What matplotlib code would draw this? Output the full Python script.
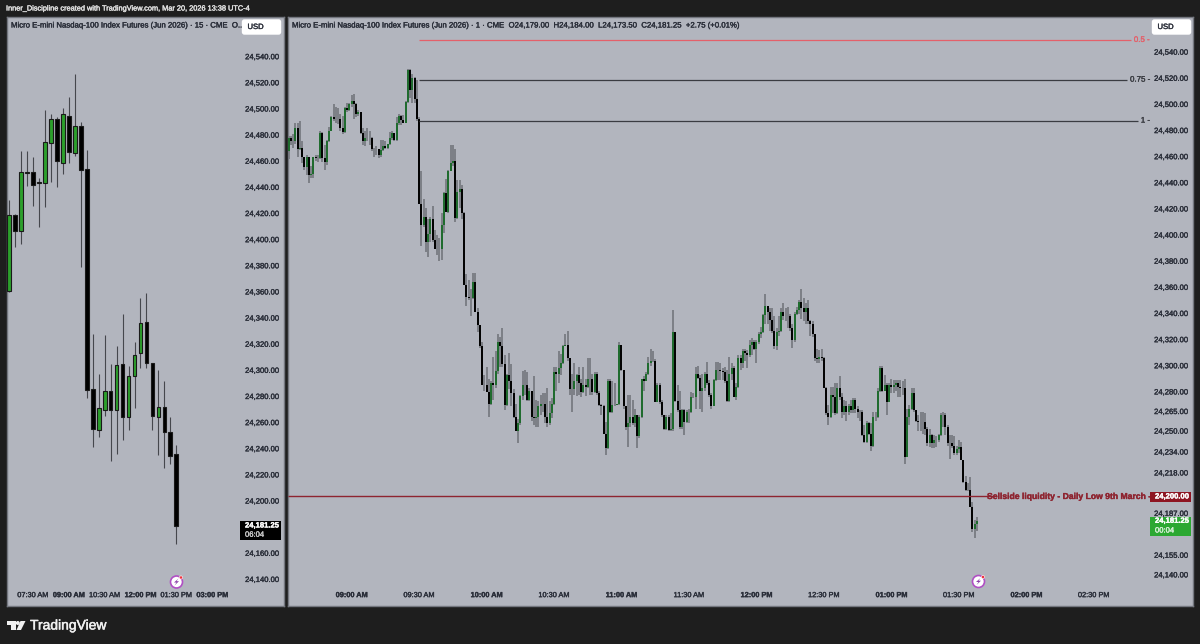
import numpy as np
import matplotlib
matplotlib.use("Agg")
import matplotlib.pyplot as plt
import matplotlib.patheffects as pe
from matplotlib.patches import Rectangle, FancyBboxPatch, Circle, Polygon
from matplotlib.text import Text
from matplotlib.transforms import Affine2D

plt.rcParams["font.family"] = ["Liberation Sans", "DejaVu Sans"]

BG = "#1e1e1e"
PANE = "#b2b5be"
TXT = "#2a2e39"

# 15 minute chart, first bar 06:30
h_open = [24361, 24419, 24407, 24451, 24452, 24443.5, 24443, 24474, 24492, 24459, 24495, 24466, 24487, 24454, 24285.5,
          24254, 24270, 24284.5, 24270, 24304.6, 24264.5, 24296, 24313, 24337, 24305.6, 24264.5, 24272, 24253, 24236]
h_high = [24430, 24420, 24468, 24468, 24463, 24447, 24499, 24496, 24494, 24501, 24509, 24527, 24490, 24469, 24328,
          24297, 24327, 24305, 24319, 24343, 24303, 24321.5, 24355, 24359, 24305.6, 24300, 24292, 24264, 24243]
h_low = [24360, 24394.6, 24397, 24441, 24426, 24410, 24425, 24444, 24440, 24450, 24459, 24464, 24379, 24279, 24241,
         24249, 24265, 24231, 24236, 24247, 24254, 24271.5, 24301.5, 24301.5, 24254, 24235, 24225.5, 24228, 24167]
h_close = [24419, 24407, 24452, 24452, 24442, 24443, 24475, 24492, 24460, 24496, 24467, 24487, 24453, 24285, 24255,
           24271, 24284, 24270, 24304, 24264.5, 24296, 24311.5, 24336.5, 24305.6, 24265, 24272, 24253, 24234.7, 24181.25]

# 1 minute chart, first bar 08:31
m_first_open = 24474
m_close = [
    24464, 24474, 24472, 24472, 24482, 24466, 24467, 24460, 24452, 24460,
    24446, 24447, 24460, 24459, 24459, 24478, 24459, 24456, 24472, 24480,
    24490, 24489, 24489, 24489, 24482, 24479, 24497, 24496, 24500, 24503,
    24500, 24493, 24494, 24478, 24472, 24474, 24474, 24474, 24466, 24466,
    24466, 24461, 24465, 24468, 24467, 24470, 24474, 24478, 24473, 24486,
    24491, 24488, 24486, 24502, 24526, 24511, 24520, 24504, 24489, 24424,
    24408, 24414, 24395, 24401, 24412, 24396, 24389, 24389, 24389, 24408,
    24432, 24418, 24449, 24455, 24457, 24413, 24433, 24435, 24417, 24362,
    24353, 24352, 24352, 24364, 24341, 24331, 24315, 24285, 24285, 24280,
    24271, 24287, 24285, 24296, 24318, 24315, 24301, 24270, 24293, 24288,
    24279, 24261, 24250, 24256, 24277, 24285, 24285, 24274, 24281, 24261,
    24260, 24261, 24269, 24271, 24271, 24261, 24256, 24264, 24271, 24295,
    24294, 24298, 24302, 24315, 24316, 24306, 24282, 24282, 24288, 24293,
    24287, 24280, 24285, 24284, 24290, 24290, 24280, 24294, 24279, 24270,
    24269, 24248, 24237, 24288, 24265, 24270, 24270, 24271, 24316, 24297,
    24269, 24253, 24256, 24261, 24256, 24262, 24246, 24261, 24290, 24288,
    24294, 24302, 24304, 24304, 24272, 24285, 24272, 24262, 24252, 24261,
    24251, 24252, 24326, 24273, 24266, 24253, 24266, 24257, 24265, 24265,
    24276, 24276, 24294, 24291, 24281, 24283, 24294, 24287, 24278, 24269,
    24289, 24297, 24297, 24296, 24295, 24288, 24273, 24294, 24298, 24276,
    24284, 24306, 24302, 24311, 24310, 24308, 24316, 24318, 24313, 24318,
    24324, 24326, 24339, 24346, 24341, 24335, 24327, 24315, 24326, 24327,
    24341, 24338, 24338, 24338, 24329, 24320, 24340, 24343, 24349, 24344,
    24341, 24344, 24334, 24332, 24324, 24306, 24305, 24307, 24306, 24283,
    24264, 24261, 24278, 24276, 24264, 24283, 24276, 24265, 24269, 24265,
    24269, 24266, 24274, 24267, 24265, 24265, 24247, 24242, 24256, 24248,
    24239, 24261, 24261, 24281, 24298, 24281, 24285, 24272, 24285, 24284,
    24285, 24287, 24284, 24283, 24283, 24230, 24261, 24267, 24279, 24266,
    24258, 24257, 24257, 24257, 24252, 24241, 24247, 24241, 24243, 24243,
    24247, 24262, 24262, 24253, 24241, 24241, 24239, 24233, 24236, 24238,
    24228, 24211, 24205, 24205, 24192, 24175, 24179, 24181.25]
m_high = [
    24475, 24476, 24476, 24477, 24486, 24486, 24487, 24472, 24460, 24461,
    24460, 24453, 24460, 24461, 24461, 24480, 24479, 24469, 24473, 24483,
    24491, 24500, 24498, 24497, 24493, 24491, 24498, 24501, 24501, 24507,
    24508, 24501, 24496, 24494, 24482, 24480, 24482, 24480, 24475, 24467,
    24468, 24466, 24473, 24473, 24472, 24470, 24479, 24480, 24478, 24490,
    24493, 24492, 24492, 24503, 24527, 24527, 24523, 24521, 24519, 24490,
    24449, 24428, 24421, 24412, 24414, 24422, 24404, 24400, 24398, 24417,
    24433, 24443, 24450, 24469, 24469, 24466, 24442, 24442, 24438, 24418,
    24370, 24366, 24359, 24371, 24371, 24344, 24331, 24318, 24293, 24299,
    24290, 24288, 24307, 24311, 24324, 24322, 24329, 24308, 24294, 24310,
    24301, 24282, 24271, 24259, 24278, 24296, 24297, 24295, 24283, 24280,
    24292, 24274, 24273, 24278, 24279, 24279, 24283, 24273, 24275, 24299,
    24299, 24311, 24309, 24316, 24324, 24327, 24304, 24294, 24302, 24294,
    24299, 24290, 24299, 24290, 24306, 24306, 24294, 24295, 24295, 24281,
    24271, 24270, 24257, 24290, 24290, 24288, 24287, 24271, 24318, 24316,
    24297, 24269, 24278, 24278, 24274, 24267, 24257, 24262, 24290, 24292,
    24295, 24307, 24313, 24311, 24305, 24287, 24287, 24274, 24262, 24262,
    24262, 24264, 24343, 24326, 24285, 24281, 24267, 24267, 24266, 24267,
    24280, 24279, 24299, 24300, 24293, 24294, 24295, 24303, 24289, 24279,
    24290, 24303, 24303, 24302, 24298, 24299, 24297, 24307, 24302, 24300,
    24287, 24308, 24308, 24313, 24313, 24312, 24320, 24321, 24320, 24320,
    24326, 24330, 24340, 24355, 24346, 24344, 24344, 24338, 24329, 24338,
    24344, 24348, 24344, 24345, 24340, 24332, 24341, 24345, 24350, 24359,
    24352, 24348, 24350, 24335, 24334, 24324, 24313, 24312, 24313, 24307,
    24284, 24270, 24284, 24284, 24287, 24287, 24292, 24279, 24274, 24273,
    24271, 24274, 24275, 24275, 24269, 24266, 24266, 24255, 24258, 24257,
    24256, 24265, 24265, 24283, 24300, 24300, 24293, 24287, 24287, 24290,
    24289, 24289, 24289, 24289, 24288, 24290, 24267, 24270, 24283, 24283,
    24266, 24262, 24265, 24265, 24264, 24253, 24252, 24248, 24247, 24246,
    24248, 24264, 24265, 24264, 24255, 24247, 24247, 24246, 24239, 24243,
    24242, 24228, 24216, 24210, 24215, 24196, 24182, 24184]
m_low = [
    24458, 24458, 24469, 24467, 24470, 24460, 24465, 24455, 24450, 24446,
    24440, 24444, 24444, 24457, 24456, 24458, 24456, 24450, 24454, 24471,
    24480, 24487, 24486, 24485, 24480, 24477, 24478, 24494, 24495, 24498,
    24489, 24490, 24491, 24477, 24469, 24468, 24472, 24469, 24464, 24460,
    24461, 24459, 24460, 24464, 24466, 24466, 24469, 24473, 24472, 24472,
    24484, 24484, 24486, 24486, 24501, 24505, 24501, 24501, 24487, 24424,
    24392, 24406, 24387, 24383, 24395, 24395, 24389, 24385, 24380, 24381,
    24402, 24418, 24417, 24449, 24453, 24410, 24412, 24421, 24412, 24362,
    24346, 24350, 24338, 24351, 24341, 24326, 24314, 24285, 24281, 24280,
    24261, 24270, 24274, 24283, 24294, 24299, 24299, 24266, 24269, 24282,
    24269, 24260, 24250, 24241, 24255, 24274, 24278, 24273, 24273, 24258,
    24255, 24253, 24253, 24262, 24265, 24256, 24253, 24255, 24260, 24270,
    24281, 24287, 24293, 24301, 24315, 24304, 24278, 24265, 24278, 24277,
    24278, 24276, 24279, 24277, 24283, 24278, 24278, 24279, 24278, 24269,
    24262, 24248, 24232, 24236, 24264, 24264, 24269, 24270, 24270, 24296,
    24267, 24251, 24238, 24253, 24255, 24253, 24237, 24245, 24260, 24281,
    24288, 24293, 24300, 24303, 24272, 24272, 24271, 24261, 24251, 24251,
    24250, 24250, 24250, 24272, 24265, 24252, 24252, 24247, 24256, 24256,
    24264, 24275, 24267, 24290, 24267, 24265, 24281, 24285, 24276, 24267,
    24269, 24288, 24289, 24289, 24289, 24287, 24272, 24272, 24289, 24276,
    24274, 24283, 24297, 24298, 24304, 24298, 24307, 24308, 24312, 24302,
    24317, 24321, 24325, 24332, 24332, 24327, 24325, 24313, 24312, 24323,
    24326, 24335, 24334, 24329, 24327, 24314, 24318, 24339, 24340, 24336,
    24334, 24332, 24332, 24323, 24322, 24304, 24302, 24302, 24304, 24283,
    24262, 24255, 24260, 24264, 24262, 24263, 24274, 24260, 24262, 24258,
    24262, 24264, 24264, 24264, 24260, 24258, 24246, 24241, 24241, 24247,
    24235, 24238, 24258, 24260, 24280, 24280, 24281, 24262, 24272, 24279,
    24279, 24281, 24276, 24276, 24278, 24225, 24230, 24255, 24266, 24265,
    24257, 24250, 24250, 24248, 24247, 24239, 24238, 24237, 24237, 24238,
    24242, 24246, 24253, 24247, 24239, 24229, 24237, 24232, 24232, 24233,
    24228, 24210, 24204, 24204, 24192, 24173, 24168, 24173.5]

left_yticks = list(range(24140, 24541, 20))
right_yticks = [24140, 24155, 24174, 24187, 24200, 24218, 24234, 24250, 24265, 24280, 24300] + list(range(24320, 24541, 20))

left_xticks = [450, 540, 630, 720, 810, 900]
left_xlabels = ["07:30 AM", "09:00 AM", "10:30 AM", "12:00 PM", "01:30 PM", "03:00 PM"]
left_xbold = ["09:00 AM", "12:00 PM", "03:00 PM"]
right_xticks = [540, 570, 600, 630, 660, 690, 720, 750, 780, 810, 840, 870]
right_xlabels = ["09:00 AM", "09:30 AM", "10:00 AM", "10:30 AM", "11:00 AM", "11:30 AM",
                 "12:00 PM", "12:30 PM", "01:00 PM", "01:30 PM", "02:00 PM", "02:30 PM"]
right_xbold = ["09:00 AM", "10:00 AM", "11:00 AM", "12:00 PM", "01:00 PM", "02:00 PM"]

fib_prices = [24549, 24518.6, 24487.3]
fib_labels = ["0.5 -", "0.75 -", "1 -"]
fib_colors = ["#e4606a", "#3a3c42", "#3a3c42"]
fib_ends = [886.5, 884.8, 889.6]
sellside_price = 24200

fig = plt.figure(figsize=(12, 6.44), dpi=100, facecolor=BG)
# layout helper, pixels from the top left of the figure
px = Affine2D().scale(1 / 1200, -1 / 644).translate(0, 1) + fig.transFigure


def make_pane(x0, x1, xlim, ylim, yticks, xticks, xlabels, xbold):
    ax = fig.add_axes([x0 / 1200, (644 - 606) / 644, (x1 - x0) / 1200, (606 - 17) / 644], facecolor=PANE)
    ax.set_xlim(*xlim)
    ax.set_ylim(*ylim)
    for s in ax.spines.values():
        s.set_color("#74777f")
        s.set_linewidth(1.0)
    ax.yaxis.tick_right()
    ax.set_yticks(yticks)
    ax.set_yticklabels([f"{v:,.2f}" for v in yticks])
    ax.tick_params(axis="y", length=0, pad=-28, labelsize=5.5, labelcolor=TXT)
    ax.set_xticks(xticks)
    ax.set_xticklabels(xlabels)
    ax.tick_params(axis="x", length=0, pad=-10, labelsize=5.3, labelcolor=TXT)
    for t in ax.get_xticklabels():
        if t.get_text() in xbold:
            t.set_fontweight("bold")
    return ax


def draw_candles(ax, x, o, h, l, c, wick, wick_lw, body_w, up_col, edge_lw):
    x = np.array(x)
    o, h, l, c = map(np.array, (o, h, l, c))
    ax.vlines(x, l, h, color=wick, lw=wick_lw, zorder=2)
    up = c >= o
    if edge_lw > 0:
        lo = np.minimum(o, c)
        ax.bar(x, np.maximum(np.abs(c - o), 0.8), body_w, bottom=lo, color=np.where(up, up_col, "black"),
               edgecolor="#1a1a1a", linewidth=edge_lw, zorder=3)
    else:
        ax.vlines(x[up], o[up], c[up], color=up_col, lw=body_w, zorder=3)
        ax.vlines(x[~up], o[~up], c[~up], color="black", lw=body_w, zorder=3)


def icon(ax, cx, cy):
    ax.add_patch(Circle((cx, cy), 6, transform=px, facecolor="white", edgecolor="#b04fc4", lw=1.2, clip_on=False, zorder=6))
    ax.add_patch(Polygon([(cx + 2, cy - 3.5), (cx - 2.5, cy + 0.5), (cx, cy + 0.5), (cx - 2, cy + 3.5), (cx + 2.5, cy - 0.8), (cx, cy - 0.8)],
                         transform=px, facecolor="#8a3fa8", edgecolor="none", clip_on=False, zorder=7))
    ax.add_patch(Circle((cx + 4.5, cy - 4.5), 1.6, transform=px, facecolor="#f0323c", edgecolor="white", lw=0.4, clip_on=False, zorder=8))


def usd_button(ax, x0):
    ax.add_patch(FancyBboxPatch((x0 + 1, 20), 38, 14, boxstyle="round,pad=0,rounding_size=2", transform=px,
                                facecolor="white", edgecolor="white", lw=1, clip_on=False, zorder=6))
    ax.text(x0 + 6, 27.5, "USD", transform=px, fontsize=5.5, color=TXT, va="center", ha="left", zorder=7)


def price_tag(ax, x0, x1, y0, y1, color):
    ax.add_patch(Rectangle((x0, y0), x1 - x0, y1 - y0, transform=px, facecolor=color, edgecolor="none", clip_on=False, zorder=6))


# left pane
ax1 = make_pane(6.5, 284, (383.7, 1080.2), (24119.7, 24570.4), left_yticks, left_xticks, left_xlabels, left_xbold)
h_times = [390 + 15 * i for i in range(len(h_close))]
draw_candles(ax1, h_times, h_open, h_high, h_low, h_close, "#45474d", 0.8, 9.5, "#2ca02c", 0.8)
ax1.text(11, 26, "Micro E-mini Nasdaq-100 Index Futures (Jun 2026) · 15 · CME  O...", transform=px,
         fontsize=5.6, color=TXT, va="center")
usd_button(ax1, 241.5)
price_tag(ax1, 240, 281, 521, 540, "black")
ax1.text(245, 526, "24,181.25", transform=px, fontsize=5.5, color="white", fontweight="bold", va="center", zorder=7)
ax1.text(245, 535.2, "06:04", transform=px, fontsize=5.5, color="#c8c8c8", va="center", zorder=7)
icon(ax1, 176.5, 582)

# right pane
ax2 = make_pane(287.5, 1193, (511.5, 914.1), (24116.2, 24566.9), right_yticks, right_xticks, right_xlabels, right_xbold)
m_times = [511 + i for i in range(len(m_close))]
m_open = [m_first_open] + m_close[:-1]
draw_candles(ax2, m_times, m_open, m_high, m_low, m_close, "#6e7077", 1.1, 1.4, "#1d6b2c", 0)

for price, label, color, end in zip(fib_prices, fib_labels, fib_colors, fib_ends):
    ax2.hlines(price, 570, end, color=color, lw=0.9, zorder=4)
    ax2.text(end + 1.3, price, label, fontsize=5.7, color=color, va="center", ha="left", zorder=4)

ax2.hlines(sellside_price, 511.5, 825.3, color="#8e2430", lw=1.0, zorder=4)
ax2.text(987, 496.5, "Sellside liquidity - Daily Low 9th March -", transform=px, fontsize=6.2,
         color="#8e2430", fontweight="bold", va="center", zorder=5)
ax2.text(292, 26, "Micro E-mini Nasdaq-100 Index Futures (Jun 2026) · 1 · CME  O24,179.00  H24,184.00  L24,173.50  C24,181.25  +2.75 (+0.01%)",
         transform=px, fontsize=5.6, color=TXT, va="center")
usd_button(ax2, 1151.5)
price_tag(ax2, 1150, 1190.7, 492, 502, "#8e1522")
ax2.text(1155, 497, "24,200.00", transform=px, fontsize=5.5, color="white", fontweight="bold", va="center", zorder=7)
price_tag(ax2, 1150, 1190.7, 516.7, 535.7, "#2ca832")
ax2.text(1155, 521.3, "24,181.25", transform=px, fontsize=5.5, color="white", fontweight="bold", va="center", zorder=7)
ax2.text(1155, 531, "00:04", transform=px, fontsize=5.5, color="#d8f0d8", va="center", zorder=7)
icon(ax2, 978.5, 581.5)

# header and footer
fig.text(6, 9, "Inner_Discipline created with TradingView.com, Mar 20, 2026 13:38 UTC-4", transform=px,
         fontsize=5.3, color="#e0e0e0", va="center")
fig.text(30, 625.5, "TradingView", transform=px, fontsize=10, color="#f0f0f0", va="center")
fig.add_artist(Polygon([(7, 621), (15.5, 621), (15.5, 630), (11, 630), (11, 625), (7, 625)], transform=px, facecolor="#f0f0f0", edgecolor="none"))
fig.add_artist(Circle((17.8, 623), 2, transform=px, facecolor="#f0f0f0", edgecolor="none"))
fig.add_artist(Polygon([(20.5, 621), (25.5, 621), (21, 630), (16.5, 630)], transform=px, facecolor="#f0f0f0", edgecolor="none"))

# the screenshot text is a bit heavier than the plain font
for t in fig.findobj(Text):
    w = 0.35 if t.get_fontsize() > 8 else 0.25
    t.set_path_effects([pe.withStroke(linewidth=w, foreground=t.get_color())])

fig.savefig("out.png", dpi=100, facecolor=BG)
